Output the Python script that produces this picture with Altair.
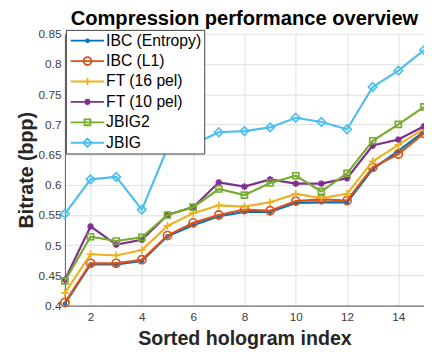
import altair as alt
import pandas as pd

# ---------------- data ----------------
hologram_index = list(range(1, 16))
series_names = ["IBC (Entropy)", "IBC (L1)", "FT (16 pel)", "FT (10 pel)", "JBIG2", "JBIG"]
series_colors = ["#0072BD", "#D95319", "#EDB120", "#7E2F8E", "#77AC30", "#4DBEEE"]

ibc_entropy = [0.403, 0.468, 0.468, 0.474, 0.515, 0.533, 0.548, 0.555, 0.555, 0.570, 0.571, 0.571, 0.626, 0.656, 0.688]
ibc_l1 = [0.405, 0.470, 0.470, 0.476, 0.516, 0.537, 0.550, 0.559, 0.557, 0.573, 0.576, 0.574, 0.629, 0.651, 0.685]
ft_16 = [0.421, 0.485, 0.483, 0.492, 0.532, 0.553, 0.566, 0.564, 0.571, 0.585, 0.578, 0.585, 0.639, 0.666, 0.693]
ft_10 = [0.443, 0.531, 0.501, 0.509, 0.550, 0.563, 0.604, 0.597, 0.609, 0.602, 0.602, 0.611, 0.665, 0.675, 0.697]
jbig2 = [0.441, 0.514, 0.507, 0.513, 0.550, 0.563, 0.593, 0.583, 0.603, 0.615, 0.589, 0.619, 0.673, 0.700, 0.729]
jbig = [0.552, 0.609, 0.613, 0.559, 0.661, 0.667, 0.687, 0.689, 0.695, 0.711, 0.704, 0.692, 0.762, 0.789, 0.823]

x_ticks = [2, 4, 6, 8, 10, 12, 14]
y_ticks = [0.4, 0.45, 0.5, 0.55, 0.6, 0.65, 0.7, 0.75, 0.8, 0.85]

all_series = [ibc_entropy, ibc_l1, ft_16, ft_10, jbig2, jbig]
rows = []
for name, vals in zip(series_names, all_series):
    for i, v in zip(hologram_index, vals):
        rows.append({"idx": i, "bpp": v, "series": name})
df = pd.DataFrame(rows)

FONT = "Liberation Sans"


# ---------------- marker paths ----------------
def fmt(v):
    return f"{v:.3f}".rstrip("0").rstrip(".")


def circ(r):
    return (f"M{fmt(-r)},0A{fmt(r)},{fmt(r)},0,1,1,{fmt(r)},0"
            f"A{fmt(r)},{fmt(r)},0,1,1,{fmt(-r)},0Z")


def markers(k):
    plus = f"M{fmt(-1.1*k)},0L{fmt(1.1*k)},0M0,{fmt(-1.1*k)}L0,{fmt(1.1*k)}"
    a, d = 0.95 * k, 0.67 * k
    star = (f"M{fmt(-a)},0L{fmt(a)},0M0,{fmt(-a)}L0,{fmt(a)}"
            f"M{fmt(-d)},{fmt(-d)}L{fmt(d)},{fmt(d)}M{fmt(-d)},{fmt(d)}L{fmt(d)},{fmt(-d)}")
    s = 0.85 * k
    square = f"M{fmt(-s)},{fmt(-s)}L{fmt(s)},{fmt(-s)}L{fmt(s)},{fmt(s)}L{fmt(-s)},{fmt(s)}Z"
    q = 1.2 * k
    diamond = f"M0,{fmt(-q)}L{fmt(q)},0L0,{fmt(q)}L{fmt(-q)},0Z"
    return [circ(0.4 * k), circ(1.15 * k), plus, star, square, diamond]


plot_shapes = markers(1.0)                    # unit = 3.5 px (size 49)
legend_line = "M-4.25,0L4.25,0"              # unit = 4 px (symbolSize 64)
legend_shapes = [legend_line + m for m in markers(0.875)]

# ---------------- layers ----------------
x_enc = alt.X("idx:Q", scale=alt.Scale(domain=[1, 15], nice=False, zero=False),
              axis=alt.Axis(values=x_ticks, title="Sorted hologram index"))
y_enc = alt.Y("bpp:Q", scale=alt.Scale(domain=[0.4, 0.85], nice=False, zero=False),
              axis=alt.Axis(values=y_ticks, format=".2~f", title="Bitrate (bpp)"))

layers = []
for name, col, shp in zip(series_names, series_colors, plot_shapes):
    base = alt.Chart().transform_filter(alt.datum.series == name)
    layers.append(base.mark_line(strokeWidth=2.2, color=col).encode(x=x_enc, y=y_enc))
    layers.append(base.mark_point(filled=False, size=52, strokeWidth=1.7, opacity=1,
                                  shape=shp, color=col).encode(x=x_enc, y=y_enc))

legend_def = alt.Legend(
    title=None, orient="none", legendX=1, legendY=-4,
    labelFont=FONT, labelFontSize=16, labelColor="#000000",
    fillColor="white", strokeColor="#404040", padding=3,
    symbolSize=64, symbolStrokeWidth=1.9, symbolOffset=11, labelOffset=11,
    rowPadding=4.8, symbolFillColor="transparent", symbolOpacity=1,
)

carrier = alt.Chart().mark_point(filled=False, strokeWidth=1.9).encode(
    stroke=alt.Stroke("series:N", scale=alt.Scale(domain=series_names, range=series_colors), legend=legend_def),
    shape=alt.Shape("series:N", scale=alt.Scale(domain=series_names, range=legend_shapes), legend=legend_def),
).transform_filter("false")
layers.append(carrier)

chart = alt.layer(*layers, data=df).properties(
    width=366,
    height=277,
    padding={"left": 58, "top": 23, "right": 0, "bottom": 45},
    autosize=alt.AutoSizeParams(type="none"),
    title=alt.TitleParams(
        "Compression performance overview", font=FONT, fontSize=20.5, fontWeight="bold",
        color="#000000", anchor="middle", frame="group", baseline="alphabetic", offset=4, dy=22,
    ),
).configure_view(stroke=None).configure_axis(
    labelFont=FONT, labelFontSize=12, labelColor="#404040", labelOverlap=False,
    titleFont=FONT, titleFontSize=20, titleFontWeight="bold", titleColor="#262626",
    gridColor="#dedede", gridWidth=1, domainColor="#555555", domainWidth=1,
    ticks=False, tickSize=0,
).configure_axisX(
    labelPadding=6.5, titleBaseline="alphabetic", titleY=40,
).configure_axisY(
    labelPadding=4, titleBaseline="alphabetic", titleX=-33,
)

chart.save("out.html", embed_options={"renderer": "svg", "actions": False})
